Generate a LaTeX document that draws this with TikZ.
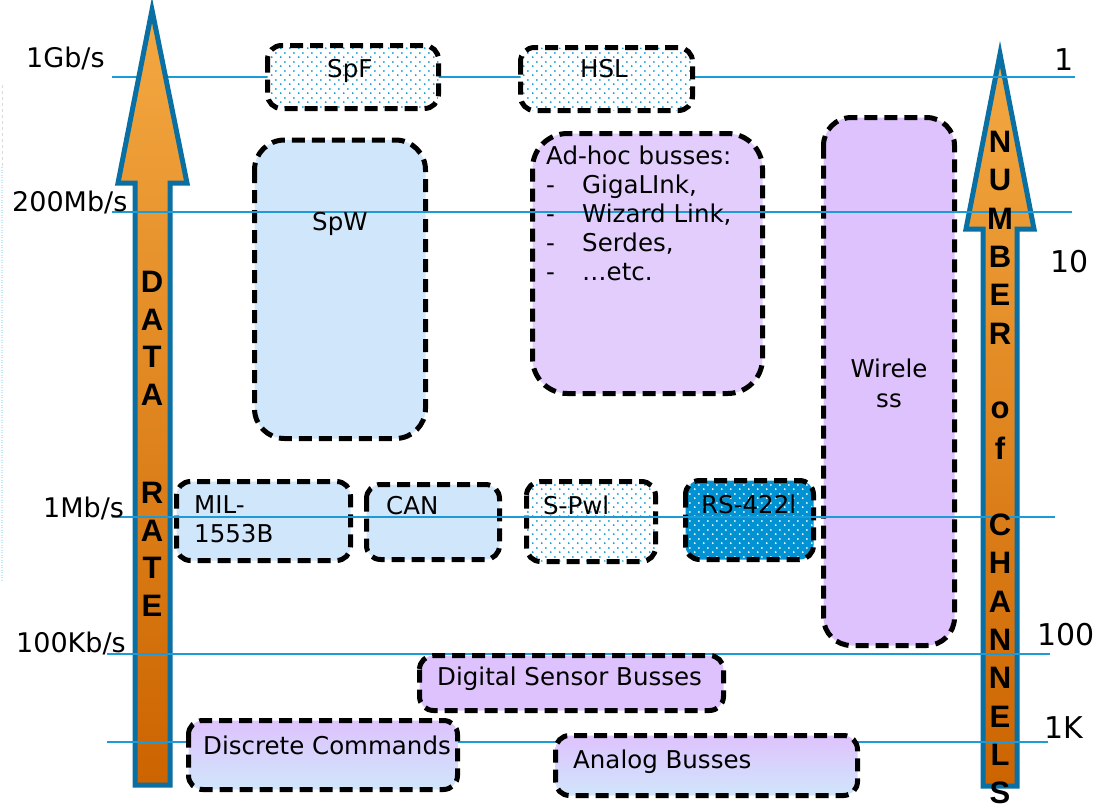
\documentclass[tikz,border=0pt]{standalone}
\usepackage{fontspec}
\setmainfont{DejaVu Sans}
\newfontfamily\letterfont{Liberation Sans}
\usetikzlibrary{patterns}

\definecolor{guideblue}{HTML}{1E9BD7}
\definecolor{arrowedge}{HTML}{0A6FA3}
\definecolor{orangetop}{HTML}{F4A942}
\definecolor{orangebot}{HTML}{CC6400}
\definecolor{paleblue}{HTML}{D0E6FB}
\definecolor{lilac}{HTML}{DEC2FD}
\definecolor{palelilac}{HTML}{E3CDFD}
\definecolor{dotblue}{HTML}{0A96D6}
\definecolor{deepblue}{HTML}{0092D2}

% staggered dots used for the dotted boxes
\pgfdeclarepatternformonly{sparsedots}{\pgfqpoint{0pt}{0pt}}{\pgfqpoint{9pt}{9pt}}{\pgfqpoint{9pt}{9pt}}{%
  \pgfpathcircle{\pgfqpoint{2pt}{2pt}}{1.1pt}%
  \pgfpathcircle{\pgfqpoint{6.5pt}{6.5pt}}{1.1pt}%
  \pgfusepath{fill}}

\newcommand\bxfont{\fontsize{24.5}{29}\selectfont}
\newcommand\lblfont{\fontsize{27}{30}\selectfont}
\newcommand\chfont{\fontsize{30}{34}\selectfont}
\newcommand\ltrfont{\letterfont\bfseries\fontsize{31}{34}\selectfont}

\begin{document}
\begin{tikzpicture}[x=1pt,y=-1pt,
  boxline/.style={draw=black, line width=5pt, dash pattern=on 13pt off 7pt, rounded corners=#1},
  boxline/.default=14pt,
  guide/.style={draw=guideblue, line width=1.8pt},
  bigarrow/.style={draw=arrowedge, line width=5pt, line join=miter, top color=orangetop, bottom color=orangebot},
  dotted box/.style={preaction={fill=white}, pattern=sparsedots, pattern color=dotblue},
  deep box/.style={preaction={fill=deepblue}, pattern=sparsedots, pattern color=white},
  fade box/.style={top color=lilac, bottom color=paleblue},
  txt/.style={inner sep=0pt, anchor=base west, font=\bxfont},
  lbl/.style={inner sep=0pt, anchor=base west, font=\lblfont},
  chl/.style={inner sep=0pt, anchor=base west, font=\chfont},
  ltr/.style={inner sep=0pt, anchor=center, font=\ltrfont}]

\useasboundingbox (0,0) rectangle (1100,806);

% faint stray rule at the left edge
\draw[black!15, line width=0.8pt, dash pattern=on 3pt off 3pt] (2,85) -- (2,167);
\draw[cyan!25, line width=1.3pt, dash pattern=on 1pt off 1.5pt] (2,167) -- (2,580);

% right arrow: number of channels
\draw[bigarrow] (1000,54) -- (1034,229) -- (1017,229) -- (1017,786)
  -- (983,786) -- (983,229) -- (966,229) -- cycle;

% 1 Gb/s guide runs behind the left arrow
\coordinate (g1a) at (112,77);  \coordinate (g1b) at (1075,77);
\draw[guide] (g1a) -- (g1b);

% left arrow: data rate
\draw[bigarrow] (152,10) -- (187,183) -- (170,183) -- (170,785)
  -- (135,785) -- (135,183) -- (118,183) -- cycle;

% upper boxes
\draw[boxline, dotted box] (267.5,45.5) rectangle (438.5,108.5);
\draw[boxline, dotted box] (520.5,47.5) rectangle (692.5,110.5);
\draw[boxline=30pt, fill=paleblue] (254.5,140) rectangle (425.5,438.5);
\draw[boxline=35pt, fill=palelilac] (532.5,133.5) rectangle (762.5,393.5);
\draw[boxline=28pt, fill=lilac] (823.5,117.5) rectangle (954.5,645.5);
\draw[boxline, fill=paleblue] (176.5,481.5) rectangle (350.5,560.5);
\draw[boxline, fill=paleblue] (366.5,484.5) rectangle (499.5,559.5);
\draw[boxline, dotted box] (526.5,481.5) rectangle (655.5,561.5);
\draw[boxline, deep box] (685.5,480.5) rectangle (813.5,559.5);

% remaining guides
\coordinate (g2a) at (112,212); \coordinate (g2b) at (1072,212);
\coordinate (g3a) at (112,517); \coordinate (g3b) at (1055,517);
\coordinate (g4a) at (107,654); \coordinate (g4b) at (1050,654);
\coordinate (g5a) at (107,742); \coordinate (g5b) at (1048,742);
\draw[guide] (g2a) -- (g2b);
\draw[guide] (g3a) -- (g3b);
\draw[guide] (g4a) -- (g4b);
\draw[guide] (g5a) -- (g5b);

% lower boxes
\draw[boxline, fill=lilac] (419.5,655.5) rectangle (723.5,710.5);
\draw[boxline, fade box] (188.5,720.5) rectangle (457.5,789.5);
\draw[boxline, fade box] (555.5,735.5) rectangle (857.5,795.5);

% box texts
\node[txt] (spf) at (327,77) {SpF};
\node[txt] (hsl) at (580,77) {HSL};
\node[txt] (spw) at (312,230) {SpW};
\node[txt] (adh0) at (546,164) {Ad-hoc busses:};
\foreach \y/\t [count=\i] in {193/GigaLInk{,}, 222/Wizard Link{,}, 251/Serdes{,}, 280/…etc.}{
  \node[txt] (dash\i) at (546,\y) {-};
  \node[txt] (adh\i) at (582,\y) {\t};
}
\node[txt, anchor=base] (wl1) at (889,377) {Wirele};
\node[txt, anchor=base] (wl2) at (889,407) {ss};
\node[txt] (mil1) at (194,513) {MIL-};
\node[txt] (mil2) at (194,542) {1553B};
\node[txt] (can) at (386,514) {CAN};
\node[txt] (spwl) at (543,514) {S-Pwl};
\node[txt] (rs) at (701,513) {RS-422l};
\node[txt] (dsb) at (437,685) {Digital Sensor Busses};
\node[txt] (dc) at (203,754) {Discrete Commands};
\node[txt] (ab) at (573,768) {Analog Busses};

% data rate scale
\node[lbl] (r1) at (26,67) {1Gb/s};
\node[lbl] (r2) at (12,211) {200Mb/s};
\node[lbl] (r3) at (43,517) {1Mb/s};
\node[lbl] (r4) at (16,652) {100Kb/s};

% channel count scale
\node[chl] (c1) at (1054,70) {1};
\node[chl] (c2) at (1050,272) {10};
\node[chl] (c3) at (1037,645) {100};
\node[chl] (c4) at (1044,738) {1K};

% arrow captions
\foreach \t/\y [count=\i] in {D/282, A/320, T/357, A/395, R/493, A/531, T/568, E/606}
  \node[ltr] (dr\i) at (152,\y) {\t};
\foreach \t/\y [count=\i] in {N/142, U/180, M/219, B/257, E/295, R/334, o/410, f/448,
    C/525, H/563, A/602, N/640, N/678, E/717, L/755, S/793}
  \node[ltr] (nc\i) at (1000,\y) {\t};

\end{tikzpicture}
\end{document}
